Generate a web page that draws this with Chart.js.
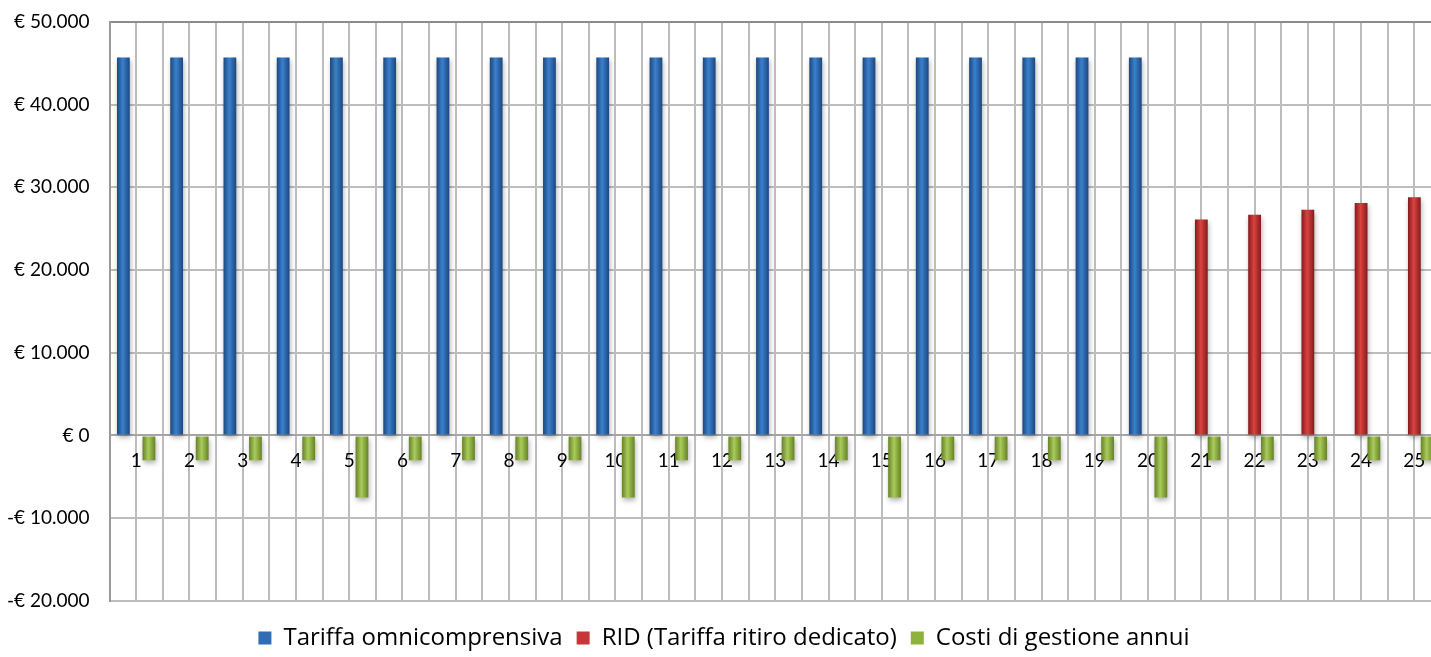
<!DOCTYPE html>
<html lang="it">
<head>
    <meta charset="UTF-8">
    <title>Tariffe e costi di gestione</title>
    <script src="https://cdn.jsdelivr.net/npm/chart.js"></script>
    <style>
        body { margin: 0; overflow: hidden; background: #fff; }
        #wrap { width: 1441px; height: 657px; }
    </style>
</head>
<body>
    <div id="wrap"><canvas id="chart"></canvas></div>

    <script>
        const anni = ['1', '2', '3', '4', '5', '6', '7', '8', '9', '10', '11', '12', '13',
                      '14', '15', '16', '17', '18', '19', '20', '21', '22', '23', '24', '25'];

        const tariffaOmni = [45700, 45700, 45700, 45700, 45700, 45700, 45700, 45700, 45700, 45700,
                             45700, 45700, 45700, 45700, 45700, 45700, 45700, 45700, 45700, 45700,
                             null, null, null, null, null];

        const rid = [null, null, null, null, null, null, null, null, null, null,
                     null, null, null, null, null, null, null, null, null, null,
                     26100, 26700, 27300, 28100, 28800];

        const costiGestione = [-3000, -3000, -3000, -3000, -7500, -3000, -3000, -3000, -3000, -7500,
                               -3000, -3000, -3000, -3000, -7500, -3000, -3000, -3000, -3000, -7500,
                               -3000, -3000, -3000, -3000, -3000];

        const yTicks = [-20000, -10000, 0, 10000, 20000, 30000, 40000, 50000];

        const CAT_PCT = 0.72;
        const FONT = 'Lato';

        // cylinder-like shading: dark edges, light centre, computed from the x scale
        function shade(edge, mid) {
            return function (c) {
                if (c.type !== 'data') return mid;
                const xs = c.chart.scales.x;
                if (!xs || !xs.width) return mid;
                const catW = xs.getPixelForValue(1) - xs.getPixelForValue(0);
                const bw = catW * CAT_PCT / 3;
                const cx = xs.getPixelForValue(c.dataIndex) + (c.datasetIndex - 1) * bw;
                const g = c.chart.ctx.createLinearGradient(cx - bw / 2, 0, cx + bw / 2, 0);
                g.addColorStop(0, edge);
                g.addColorStop(0.45, mid);
                g.addColorStop(1, edge);
                return g;
            };
        }

        function euro(v) {
            const s = String(Math.abs(v)).replace(/\B(?=(\d{3})+(?!\d))/g, '.');
            return (v < 0 ? '-€ ' : '€ ') + s;
        }

        const barShadow = {
            id: 'barShadow',
            beforeDatasetsDraw(chart) {
                const ctx = chart.ctx;
                ctx.save();
                ctx.shadowColor = 'rgba(0,0,0,0.3)';
                ctx.shadowBlur = 5;
                ctx.shadowOffsetX = 1;
                ctx.shadowOffsetY = 3;
            },
            afterDatasetsDraw(chart) {
                chart.ctx.restore();
            }
        };

        const colors = { blue: '#2f6db5', red: '#c6373a', green: '#8db33d' };

        new Chart(document.getElementById('chart'), {
            type: 'bar',
            data: {
                labels: anni,
                datasets: [
                    {
                        label: 'Tariffa omnicomprensiva',
                        data: tariffaOmni,
                        backgroundColor: shade('#1b4780', '#3b80cc'),
                        categoryPercentage: CAT_PCT,
                        barPercentage: 1
                    },
                    {
                        label: 'RID (Tariffa ritiro dedicato)',
                        data: rid,
                        backgroundColor: shade('#851a1c', '#d9433f'),
                        categoryPercentage: CAT_PCT,
                        barPercentage: 1
                    },
                    {
                        label: 'Costi di gestione annui',
                        data: costiGestione,
                        backgroundColor: shade('#668226', '#aacb5c'),
                        categoryPercentage: CAT_PCT,
                        barPercentage: 1
                    }
                ]
            },
            options: {
                responsive: true,
                maintainAspectRatio: false,
                animation: false,
                layout: { padding: { top: 22, left: 7, right: 0, bottom: -3 } },
                plugins: {
                    tooltip: { enabled: false },
                    legend: {
                        position: 'bottom',
                        title: { display: true, text: '', font: { size: 1 }, padding: { top: 0, bottom: 10 } },
                        labels: {
                            color: '#000',
                            font: { family: 'Open Sans', size: 24 },
                            boxWidth: 13,
                            boxHeight: 13,
                            padding: 14,
                            generateLabels(chart) {
                                const solid = [colors.blue, colors.red, colors.green];
                                return chart.data.datasets.map((ds, i) => ({
                                    text: ds.label,
                                    fillStyle: solid[i],
                                    strokeStyle: solid[i],
                                    lineWidth: 0,
                                    datasetIndex: i,
                                    fontColor: '#000'
                                }));
                            }
                        }
                    }
                },
                scales: {
                    x: {
                        type: 'category',
                        position: { y: 0 },
                        offset: true,
                        grid: { offset: true, color: '#bdbdbd', lineWidth: 2, drawTicks: false },
                        border: { display: true, color: '#a6a6a6', width: 2 },
                        ticks: {
                            color: '#000',
                            font: { family: FONT, size: 19 },
                            padding: 14,
                            maxRotation: 0,
                            autoSkip: false
                        }
                    },
                    x2: {
                        type: 'category',
                        axis: 'x',
                        position: { y: 0 },
                        offset: true,
                        grid: { offset: false, color: '#bdbdbd', lineWidth: 2, drawTicks: false },
                        border: { display: false },
                        ticks: { display: false }
                    },
                    y: {
                        min: yTicks[0],
                        max: yTicks[yTicks.length - 1],
                        afterBuildTicks(scale) {
                            scale.ticks = yTicks.map(v => ({ value: v }));
                        },
                        grid: {
                            color: c => c.tick && c.tick.value === 50000 ? '#8c8c8c' : '#bdbdbd',
                            lineWidth: 2,
                            drawTicks: true,
                            tickLength: 20,
                            tickColor: 'rgba(0,0,0,0)'
                        },
                        border: { display: true, color: '#9a9a9a', width: 2 },
                        ticks: {
                            color: '#000',
                            font: { family: FONT, size: 19 },
                            padding: 0,
                            callback: v => euro(v)
                        }
                    }
                }
            },
            plugins: [barShadow]
        });
    </script>
</body>
</html>
